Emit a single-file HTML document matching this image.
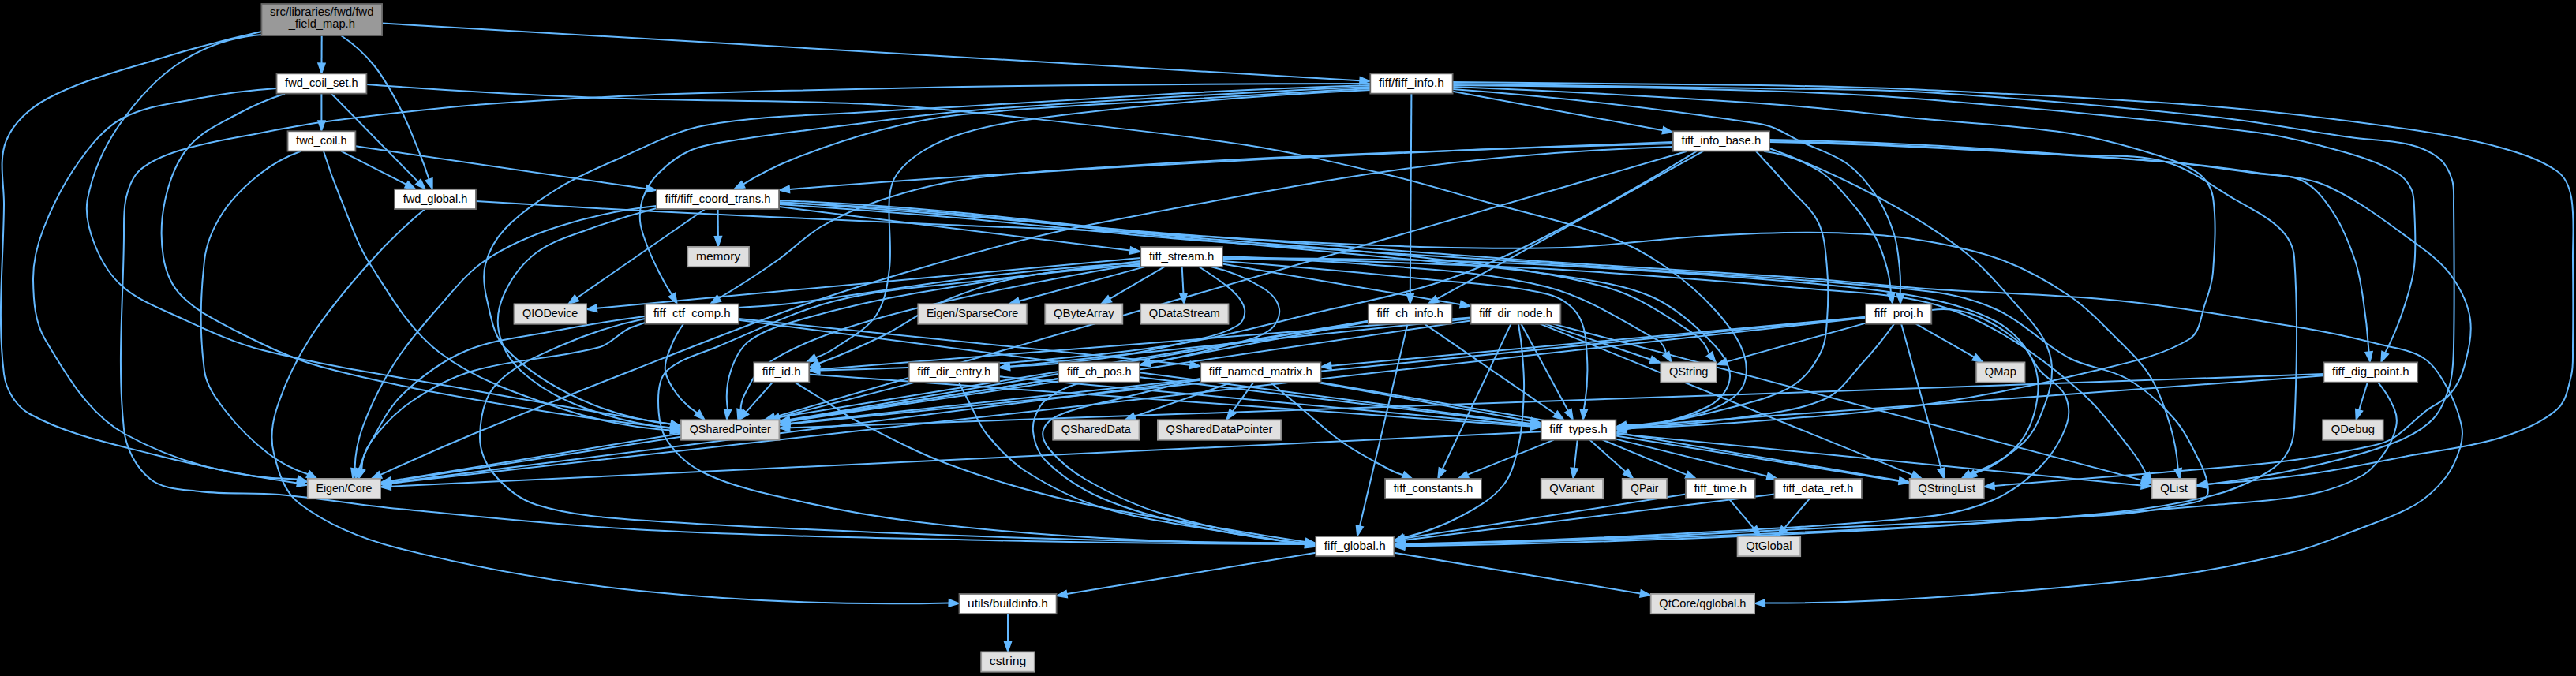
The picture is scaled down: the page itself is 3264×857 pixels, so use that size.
<!DOCTYPE html>
<html><head><meta charset="utf-8"><title>fwd_field_map.h include graph</title>
<style>
html,body{margin:0;padding:0;background:#000;}
svg{display:block;}
text{font-family:"Liberation Sans",sans-serif;font-size:14px;fill:#000;text-anchor:middle;}
.e path{fill:none;stroke:#63b8ff;stroke-width:2;}
.e polygon{fill:#63b8ff;stroke:#63b8ff;stroke-width:1.33;}
</style></head><body>
<svg width="3264" height="857" viewBox="0 0 3264 857">
<rect x="0" y="0" width="3264" height="857" fill="#000"/>
<g class="e">
<path d="M407.7,45.0L407.5,80.1"/>
<path d="M432.0,45.0C447.8,55.4 462.1,68.4 474.0,83.0C487.3,99.4 497.3,118.3 507.0,137.0C516.7,155.7 524.1,175.5 532.0,195.0C536.3,205.6 540.1,216.4 543.5,227.3"/>
<path d="M484.1,29.5L1723.0,102.2"/>
<path d="M331.4,40.0C287.1,49.8 243.3,61.5 200.0,75.0C152.7,89.8 103.7,101.6 60.0,125.0C38.2,136.7 17.3,155.1 8.0,178.0C-2.3,203.3 5.3,232.6 5.0,260.0C4.3,331.3 -3.8,403.2 5.0,474.0C7.5,494.1 20.2,515.3 38.0,525.0C84.8,550.6 138.4,561.7 190.0,575.0C251.5,590.9 313.9,603.4 376.8,612.4"/>
<path d="M331.4,44.0C295.9,46.8 260.0,58.8 230.0,78.0C197.8,98.6 171.6,128.5 150.0,160.0C131.2,187.5 117.5,219.3 111.0,252.0C107.2,271.2 112.8,291.8 120.0,310.0C127.8,329.7 139.1,349.0 155.0,363.0C174.1,379.9 198.8,389.4 222.0,400.0C258.2,416.5 294.4,434.3 333.0,444.0C420.9,466.1 510.8,478.8 600.0,495.0C683.2,510.1 766.5,524.3 849.9,537.8"/>
<path d="M407.4,118.7L407.4,153.0"/>
<path d="M419.9,118.7L529.7,230.4"/>
<path d="M464.4,107.0C562.8,114.5 661.4,120.1 760.0,124.0C873.3,128.5 986.8,126.8 1100.0,132.0C1161.8,134.8 1223.5,141.3 1285.0,148.0C1383.5,158.7 1482.1,168.8 1580.0,184.0C1640.6,193.4 1700.3,207.9 1760.0,222.0C1799.0,231.2 1837.4,243.2 1876.0,254.0C1930.0,269.2 1985.2,281.0 2038.0,300.0C2063.5,309.2 2087.7,322.5 2110.0,338.0C2133.7,354.4 2155.8,373.5 2175.0,395.0C2189.5,411.2 2203.8,429.2 2210.0,450.0C2214.3,464.5 2214.4,483.2 2205.0,495.0C2192.0,511.3 2170.0,518.9 2150.0,525.0C2121.2,533.8 2090.8,538.5 2060.6,538.9"/>
<path d="M350.5,112.0C316.8,114.2 283.2,118.6 250.0,125.0C217.9,131.2 183.9,134.6 155.0,150.0C132.1,162.2 115.1,183.9 100.0,205.0C81.4,231.1 66.6,260.1 55.0,290.0C47.0,310.6 41.7,332.9 42.0,355.0C42.4,380.5 44.0,408.1 57.0,430.0C83.7,474.9 112.3,524.6 158.0,550.0C224.0,586.6 301.5,607.0 376.9,607.6"/>
<path d="M361.0,118.7C339.9,125.5 319.4,134.4 300.0,145.0C278.9,156.6 255.6,166.7 240.0,185.0C224.5,203.1 215.4,226.8 210.0,250.0C204.2,274.7 203.0,301.0 207.0,326.0C209.9,343.8 217.3,362.2 230.0,375.0C249.5,394.7 275.3,407.4 300.0,420.0C334.5,437.5 369.7,454.9 407.0,465.0C486.8,486.7 568.5,500.8 650.0,515.0C716.2,526.5 782.9,535.6 849.8,542.2"/>
<path d="M432.2,191.7L514.9,233.8"/>
<path d="M450.4,185.3L818.7,239.2"/>
<path d="M381.0,191.7C362.7,198.3 345.2,207.9 330.0,220.0C311.9,234.3 294.5,250.6 282.0,270.0C270.4,288.0 261.4,308.7 259.0,330.0C253.7,376.4 252.7,423.8 259.0,470.0C261.5,488.6 273.5,505.1 285.0,520.0C300.8,540.5 319.5,559.2 340.0,575.0C354.9,586.5 372.2,595.5 390.2,601.2"/>
<path d="M410.0,191.7C416.1,211.4 423.1,230.9 431.0,250.0C442.8,278.7 452.3,308.9 469.0,335.0C494.6,375.0 519.1,418.4 557.0,447.0C602.1,481.1 657.4,500.0 711.0,518.0C755.8,533.0 802.8,542.3 850.0,545.4"/>
<path d="M603.0,255.0C678.6,259.9 754.3,264.2 830.0,268.0C953.3,274.2 1076.7,279.5 1200.0,285.0C1293.3,289.2 1386.8,291.3 1480.0,297.0C1646.8,307.3 1813.3,321.5 1980.0,333.0C2080.0,339.9 2180.1,344.8 2280.0,352.0C2333.4,355.8 2386.6,362.2 2440.0,366.0C2520.9,371.8 2602.3,372.5 2683.0,381.0C2764.1,389.5 2844.6,403.5 2925.0,417.0C2956.0,422.2 2986.6,429.3 3017.0,437.0C3035.3,441.6 3055.2,443.7 3071.0,454.0C3084.5,462.8 3093.1,477.9 3101.0,492.0C3109.3,506.9 3115.5,523.3 3119.0,540.0C3120.9,549.2 3119.8,559.1 3117.0,568.0C3113.0,581.1 3107.5,594.2 3099.0,605.0C3088.2,618.7 3075.1,631.2 3060.0,640.0C3034.9,654.5 3007.0,663.5 2980.0,674.0C2955.3,683.6 2930.7,693.8 2905.0,700.0C2851.5,712.9 2797.6,724.2 2743.0,731.0C2642.4,743.6 2541.2,751.3 2440.0,758.0C2372.2,762.5 2304.3,764.7 2236.4,764.6"/>
<path d="M538.0,265.2C513.0,286.0 489.5,308.7 468.0,333.0C440.8,363.7 413.9,395.3 392.0,430.0C374.3,458.0 359.8,488.4 350.0,520.0C344.6,537.5 342.6,557.2 347.0,575.0C352.6,597.9 360.2,623.8 379.0,638.0C415.7,665.9 460.3,683.7 505.0,695.0C608.3,721.2 713.9,739.4 820.0,750.0C946.9,762.6 1074.8,767.5 1202.2,764.5"/>
<path d="M1277.0,778.1L1277.0,813.1"/>
<path d="M987.1,259.0C1058.1,263.5 1129.1,268.9 1200.0,275.0C1306.7,284.2 1413.2,296.8 1520.0,305.0C1673.2,316.8 1826.7,324.3 1980.0,335.0C2133.4,345.7 2287.1,352.9 2440.0,369.0C2471.2,372.3 2502.6,379.7 2531.0,393.0C2564.1,408.5 2589.7,436.9 2622.0,454.0C2644.8,466.1 2672.6,467.1 2695.0,480.0C2717.7,493.2 2737.8,511.2 2755.0,531.0C2769.2,547.4 2778.1,567.7 2788.0,587.0C2792.2,595.2 2795.3,604.0 2797.0,613.0C2798.0,618.2 2799.1,624.6 2796.0,629.0C2792.6,633.9 2785.8,635.8 2780.0,637.0C2747.9,643.5 2715.6,649.5 2683.0,652.0C2602.2,658.2 2521.0,659.1 2440.0,663.0C2326.7,668.4 2213.4,675.1 2100.0,680.0C1993.3,684.6 1886.5,688.5 1779.7,691.5"/>
<path d="M987.1,257.0C1058.2,259.4 1129.2,263.8 1200.0,270.0C1300.2,278.8 1399.9,292.0 1500.0,302.0C1599.9,312.0 1700.1,320.0 1800.0,330.0C1860.1,336.0 1920.3,340.7 1980.0,350.0C2017.2,355.8 2055.3,360.5 2090.0,375.0C2116.5,386.0 2139.5,404.9 2160.0,425.0C2174.1,438.9 2190.9,455.2 2192.0,475.0C2192.9,491.1 2179.4,507.8 2165.0,515.0C2132.9,531.0 2096.3,539.8 2060.4,540.4"/>
<path d="M987.1,262.1L1432.0,317.4"/>
<path d="M909.6,265.1L909.9,299.6"/>
<path d="M831.9,261.0C789.9,265.5 748.2,274.2 708.0,287.0C675.5,297.4 643.4,311.0 615.0,330.0C592.3,345.2 575.1,367.5 557.0,388.0C536.7,410.9 516.5,434.2 500.0,460.0C484.0,485.1 470.5,512.1 460.0,540.0C453.5,557.2 449.9,575.8 449.5,594.2"/>
<path d="M893.0,265.2L730.9,377.7"/>
<path d="M831.9,264.0C802.5,271.5 773.5,280.5 745.0,291.0C722.7,299.2 699.0,305.7 680.0,320.0C662.9,332.8 649.2,350.8 640.0,370.0C632.7,385.2 628.7,403.4 632.0,420.0C635.7,438.7 646.0,457.0 660.0,470.0C681.4,489.8 707.8,504.6 735.0,515.0C771.9,529.1 810.8,538.6 850.1,542.9"/>
<path d="M987.1,254.0C1058.2,257.0 1129.2,261.6 1200.0,268.0C1300.2,277.0 1399.9,290.3 1500.0,300.0C1602.6,310.0 1705.7,314.6 1808.0,327.0C1885.1,336.3 1963.3,343.8 2038.0,365.0C2077.3,376.2 2111.8,400.6 2146.0,423.0C2155.1,428.9 2162.4,438.5 2165.9,448.8"/>
<path d="M987.1,256.0C1058.1,260.9 1129.1,266.3 1200.0,272.0C1306.7,280.6 1413.2,291.6 1520.0,299.0C1604.6,304.9 1689.3,309.2 1774.0,312.0C1842.6,314.2 1911.4,316.3 1980.0,314.0C2041.8,311.9 2103.2,302.5 2165.0,299.0C2214.3,296.2 2263.7,294.2 2313.0,295.0C2350.1,295.6 2387.3,297.4 2424.0,303.0C2461.6,308.8 2499.3,316.0 2535.0,329.0C2565.8,340.2 2594.9,356.5 2622.0,375.0C2644.6,390.4 2663.6,410.6 2683.0,430.0C2698.0,445.0 2713.9,459.8 2725.0,478.0C2736.6,497.0 2743.6,518.6 2750.0,540.0C2755.2,557.6 2758.5,575.9 2759.7,594.2"/>
<path d="M1766.4,700.7L2078.6,752.4"/>
<path d="M1667.2,700.7L1351.7,753.1"/>
<path d="M1968.8,557.6L1859.5,601.9"/>
<path d="M2030.6,557.6L2137.0,601.8"/>
<path d="M2047.5,556.6L2239.2,603.7"/>
<path d="M1952.7,547.3L495.3,616.7"/>
<path d="M2047.5,549.7L2713.3,615.4"/>
<path d="M2047.5,552.6L2406.5,609.9"/>
<path d="M2014.3,557.6L2059.7,598.0"/>
<path d="M1998.7,557.6L1994.7,593.6"/>
<path d="M2135.9,626.4L1779.5,682.6"/>
<path d="M2190.5,632.1L2222.1,669.7"/>
<path d="M2248.4,626.4L1779.6,684.7"/>
<path d="M2292.9,632.1L2260.8,669.7"/>
<path d="M1445.2,335.0C1380.0,340.6 1314.9,347.2 1250.0,355.0C1186.5,362.6 1122.0,365.6 1060.0,381.0C1007.3,394.1 958.2,419.2 908.0,440.0C886.5,448.9 862.1,454.3 845.0,470.0C835.3,478.9 834.0,494.8 834.0,508.0C834.0,525.1 835.6,543.7 845.0,558.0C857.1,576.4 875.1,591.8 895.0,601.0C931.6,618.0 971.7,626.1 1011.0,635.0C1061.8,646.5 1113.3,655.7 1165.0,662.0C1241.4,671.3 1318.2,677.7 1395.0,682.0C1481.2,686.9 1567.6,689.4 1653.9,689.6"/>
<path d="M1548.9,331.0C1635.4,337.5 1721.7,345.2 1808.0,354.0C1859.1,359.2 1911.0,361.0 1961.0,373.0C1976.4,376.7 1991.7,386.5 2000.0,400.0C2009.6,415.6 2009.9,435.7 2011.0,454.0C2012.2,475.7 2010.8,497.7 2006.8,519.0"/>
<path d="M1445.2,337.0C1396.6,337.2 1347.9,341.6 1300.0,350.0C1265.7,356.0 1232.1,366.6 1200.0,380.0C1171.8,391.8 1147.4,411.4 1120.0,425.0C1093.2,438.3 1065.6,450.3 1037.5,460.7"/>
<path d="M1548.9,334.4L1850.4,386.0"/>
<path d="M1515.0,338.2C1516.0,337.4 1517.9,337.3 1519.0,338.0C1533.8,347.7 1549.1,357.0 1562.0,369.0C1568.7,375.2 1575.5,383.0 1577.0,392.0C1578.2,399.1 1575.1,408.2 1569.0,412.0C1552.8,422.2 1533.5,426.4 1515.0,431.0C1477.1,440.4 1438.7,448.4 1400.0,454.0C1360.0,459.7 1319.6,463.4 1279.2,464.8"/>
<path d="M1535.0,338.2C1557.9,343.4 1580.1,352.6 1600.0,365.0C1609.7,371.0 1619.3,380.7 1621.0,392.0C1622.5,401.9 1616.2,413.3 1608.0,419.0C1592.3,429.8 1572.4,433.0 1554.0,438.0C1522.0,446.7 1489.7,454.1 1457.1,460.0"/>
<path d="M1445.2,333.0C1380.0,336.8 1314.9,342.4 1250.0,350.0C1166.4,359.8 1083.5,374.8 1000.0,385.0C960.2,389.8 919.7,389.0 880.0,395.0C852.8,399.1 825.7,405.3 800.0,415.0C785.3,420.5 775.2,435.8 760.0,440.0C707.7,454.4 652.1,454.8 600.0,470.0C571.4,478.3 544.5,493.0 520.0,510.0C500.6,523.4 483.9,541.0 470.0,560.0C462.8,569.9 458.5,582.5 458.3,594.7"/>
<path d="M1450.8,338.1L1291.1,381.8"/>
<path d="M1475.5,338.1L1406.4,378.6"/>
<path d="M1497.7,338.1L1499.5,372.1"/>
<path d="M1445.2,327.0L756.2,390.8"/>
<path d="M1548.9,325.0C1632.6,327.7 1716.3,330.7 1800.0,334.0C1860.0,336.4 1920.1,338.1 1980.0,342.0C2080.1,348.5 2180.1,356.1 2280.0,365.0C2333.5,369.8 2387.7,370.9 2440.0,383.0C2475.2,391.1 2508.8,406.7 2540.0,425.0C2576.0,446.0 2609.1,472.0 2640.0,500.0C2662.8,520.6 2681.0,545.9 2700.0,570.0C2707.5,579.5 2714.0,589.9 2719.4,600.8"/>
<path d="M1445.2,331.0C1351.1,341.8 1257.3,355.1 1164.0,371.0C1116.2,379.1 1068.7,389.8 1022.0,403.0C997.5,409.9 971.9,416.4 951.0,431.0C938.3,439.8 930.8,455.3 926.0,470.0C920.9,485.6 919.5,502.8 922.1,519.0"/>
<path d="M1445.2,334.0C1362.7,347.7 1280.6,363.7 1199.0,382.0C1151.1,392.7 1103.3,404.7 1057.0,421.0C1026.3,431.8 995.7,444.5 969.0,463.0C957.0,471.3 950.9,486.1 944.0,499.0C940.6,505.2 938.7,512.4 938.5,519.5"/>
<path d="M1548.9,329.0C1609.6,327.9 1670.5,329.9 1731.0,335.0C1808.0,341.5 1886.2,344.5 1961.0,364.0C2010.8,377.0 2055.1,405.8 2100.0,431.0C2105.9,434.3 2110.4,441.3 2110.9,448.1"/>
<path d="M1548.9,327.0C1632.6,327.1 1716.3,328.1 1800.0,330.0C1860.0,331.4 1920.1,333.5 1980.0,337.0C2080.1,342.8 2180.2,349.1 2280.0,358.0C2333.5,362.8 2387.3,367.5 2440.0,378.0C2471.0,384.2 2502.2,392.9 2530.0,408.0C2547.4,417.5 2562.3,432.8 2572.0,450.0C2580.4,464.8 2583.8,483.1 2582.0,500.0C2579.7,521.2 2573.2,543.3 2560.0,560.0C2545.6,578.2 2525.0,592.5 2502.9,599.7"/>
<path d="M1007.0,484.7C1018.0,491.4 1029.0,498.2 1040.0,505.0C1056.0,515.0 1071.2,526.4 1088.0,535.0C1125.6,554.4 1163.3,574.2 1203.0,589.0C1253.2,607.7 1304.8,622.8 1357.0,635.0C1420.3,649.8 1484.9,658.8 1549.0,670.0C1583.9,676.1 1619.0,681.7 1654.1,686.9"/>
<path d="M1025.3,474.5L1939.4,540.6"/>
<path d="M979.0,484.6L945.3,522.4"/>
<path d="M1924.0,410.7C1926.2,423.7 1927.9,436.8 1929.0,450.0C1930.2,464.3 1931.5,478.7 1931.0,493.0C1930.2,515.4 1929.7,538.1 1925.0,560.0C1920.9,579.1 1917.1,599.7 1905.0,615.0C1891.0,632.8 1870.1,644.4 1850.0,655.0C1827.6,666.8 1803.5,675.7 1778.9,681.4"/>
<path d="M1863.5,403.9L1279.2,464.7"/>
<path d="M1927.3,410.6L1986.9,520.7"/>
<path d="M1863.5,402.5L1038.6,468.2"/>
<path d="M1914.5,410.6L1827.6,594.8"/>
<path d="M1968.1,410.6L2713.6,608.6"/>
<path d="M1951.6,410.6L2423.1,601.9"/>
<path d="M1863.5,406.4L1000.6,533.9"/>
<path d="M1957.9,410.6L2091.7,455.8"/>
<path d="M1215.0,484.7C1219.2,493.2 1223.5,501.6 1228.0,510.0C1235.2,523.4 1240.4,538.2 1250.0,550.0C1264.3,567.5 1279.9,584.8 1299.0,597.0C1328.9,616.2 1361.1,632.6 1395.0,643.0C1445.0,658.4 1497.4,664.9 1549.0,674.0C1583.8,680.1 1618.9,685.0 1654.0,688.7"/>
<path d="M1266.0,477.3L1939.5,539.4"/>
<path d="M1159.7,484.6L987.2,529.0"/>
<path d="M1736.3,106.0C1657.5,106.1 1578.8,106.4 1500.0,107.0C1406.7,107.7 1313.3,108.3 1220.0,110.0C1098.7,112.3 977.3,114.9 856.0,119.0C790.6,121.2 725.3,125.0 660.0,129.0C626.6,131.0 593.3,133.6 560.0,137.0C508.9,142.2 457.9,148.1 407.0,155.0C382.2,158.4 357.6,163.1 333.0,168.0C298.6,174.8 263.6,179.8 230.0,190.0C211.6,195.6 192.6,202.5 178.0,215.0C168.0,223.5 163.1,237.3 160.0,250.0C156.0,266.2 157.2,283.3 157.0,300.0C156.2,381.3 148.3,463.1 157.0,544.0C159.5,567.6 171.7,591.9 190.0,607.0C206.7,620.8 231.5,620.4 253.0,623.0C286.4,627.1 320.4,624.1 354.0,627.0C404.5,631.4 454.5,640.1 505.0,645.0C609.9,655.1 714.8,666.6 820.0,672.0C979.9,680.2 1140.0,682.6 1300.0,686.0C1417.9,688.5 1535.9,689.8 1653.9,689.9"/>
<path d="M1840.6,115.7L2106.8,165.2"/>
<path d="M1840.6,110.0C1970.5,115.1 2100.3,122.1 2230.0,131.0C2300.2,135.8 2370.0,144.2 2440.0,151.0C2500.7,156.9 2561.8,159.7 2622.0,169.0C2659.0,174.7 2695.3,184.9 2731.0,196.0C2750.1,201.9 2769.9,208.1 2786.0,220.0C2795.4,226.9 2802.3,238.5 2804.0,250.0C2808.5,281.3 2806.3,313.4 2804.0,345.0C2803.0,358.7 2798.6,372.0 2794.0,385.0C2788.5,400.5 2788.0,421.5 2774.0,430.0C2738.0,451.9 2694.9,459.7 2654.0,470.0C2587.4,486.8 2519.9,500.6 2452.0,511.0C2385.1,521.3 2317.5,526.4 2250.0,532.0C2187.0,537.2 2123.9,540.9 2060.8,543.2"/>
<path d="M1736.3,114.0C1657.4,117.8 1578.6,123.1 1500.0,130.0C1433.2,135.8 1366.4,142.7 1300.0,152.0C1273.0,155.8 1246.1,161.2 1220.0,169.0C1202.6,174.2 1185.5,181.5 1170.0,191.0C1157.5,198.7 1145.6,208.2 1137.0,220.0C1130.8,228.5 1127.9,239.5 1127.0,250.0C1124.5,279.9 1130.4,310.2 1127.0,340.0C1124.7,360.7 1121.6,382.7 1110.0,400.0C1098.1,417.7 1077.5,427.8 1060.0,440.0C1052.0,445.6 1043.1,450.1 1033.9,453.3"/>
<path d="M1788.4,118.7L1786.8,372.1"/>
<path d="M1840.6,108.0C1970.4,108.8 2100.2,111.1 2230.0,115.0C2300.1,117.1 2370.2,120.1 2440.0,126.0C2580.2,137.8 2720.4,150.1 2860.0,168.0C2900.0,173.1 2939.2,183.8 2978.0,195.0C2998.4,200.9 3018.6,208.5 3037.0,219.0C3044.8,223.4 3050.9,231.0 3055.0,239.0C3058.5,245.9 3058.7,254.2 3059.0,262.0C3060.0,287.3 3061.8,312.8 3059.0,338.0C3056.8,357.8 3050.4,377.1 3044.0,396.0C3038.1,413.5 3030.8,430.7 3022.2,447.1"/>
<path d="M1736.3,110.0C1657.5,113.3 1578.7,117.3 1500.0,122.0C1406.6,127.6 1313.2,133.0 1220.0,141.0C1172.5,145.1 1125.3,152.0 1078.0,158.0C1028.6,164.3 979.1,170.1 930.0,178.0C911.1,181.1 891.6,183.3 874.0,191.0C858.9,197.6 845.6,208.4 834.0,220.0C825.6,228.4 819.2,238.9 815.0,250.0C811.4,259.4 810.3,269.9 811.0,280.0C811.7,290.0 815.5,299.6 819.0,309.0C823.5,321.3 829.1,333.3 835.0,345.0C839.9,354.9 845.4,364.5 851.4,373.7"/>
<path d="M1736.3,112.0C1657.5,116.3 1578.7,121.0 1500.0,126.0C1406.6,132.0 1313.1,135.6 1220.0,145.0C1184.6,148.6 1149.4,155.9 1115.0,165.0C1077.3,175.0 1040.2,187.6 1004.0,202.0C982.4,210.6 961.5,221.3 941.8,233.7"/>
<path d="M1840.6,113.0C1970.9,122.6 2100.9,137.2 2230.0,157.0C2249.8,160.0 2266.8,172.6 2285.0,181.0C2303.8,189.7 2324.3,195.8 2341.0,208.0C2355.9,218.9 2367.8,233.7 2378.0,249.0C2387.7,263.7 2394.7,280.2 2400.0,297.0C2404.4,310.8 2405.5,325.6 2407.0,340.0C2408.1,350.6 2408.3,361.4 2407.7,372.0"/>
<path d="M1840.6,104.0C1970.4,104.5 2100.2,105.8 2230.0,108.0C2300.0,109.2 2370.0,110.7 2440.0,114.0C2561.4,119.7 2682.9,125.2 2804.0,135.0C2884.9,141.5 2965.6,151.5 3046.0,163.0C3087.0,168.9 3128.1,175.9 3168.0,187.0C3193.0,194.0 3218.7,202.1 3240.0,217.0C3250.3,224.2 3255.8,237.7 3258.0,250.0C3262.6,276.3 3259.7,303.3 3260.0,330.0C3260.4,366.7 3260.5,403.3 3260.0,440.0C3259.8,452.0 3260.9,464.3 3258.0,476.0C3254.2,491.1 3251.7,508.7 3240.0,519.0C3219.8,536.7 3193.6,547.1 3168.0,555.0C3128.4,567.2 3086.7,571.3 3046.0,579.0C3005.7,586.6 2965.6,595.4 2925.0,601.0C2882.2,606.9 2839.1,611.2 2795.9,613.7"/>
<path d="M1840.6,106.0C1970.4,107.6 2100.2,109.6 2230.0,112.0C2300.0,113.3 2370.1,112.6 2440.0,117.0C2561.5,124.6 2682.9,135.2 2804.0,148.0C2862.3,154.2 2919.9,165.8 2978.0,174.0C3002.6,177.5 3027.8,177.2 3052.0,183.0C3065.9,186.3 3079.9,191.9 3091.0,201.0C3099.1,207.6 3103.9,218.0 3107.0,228.0C3110.1,238.2 3108.9,249.3 3109.0,260.0C3109.6,320.0 3110.3,380.0 3109.0,440.0C3108.6,456.1 3108.4,472.5 3104.0,488.0C3099.6,503.3 3094.0,519.5 3083.0,531.0C3069.7,544.8 3051.9,554.1 3034.0,561.0C2998.8,574.6 2961.9,583.8 2925.0,592.0C2882.4,601.5 2839.2,609.0 2795.8,614.2"/>
<path d="M1736.3,108.0C1657.5,110.5 1578.7,113.9 1500.0,118.0C1406.6,122.9 1313.3,129.4 1220.0,135.0C1185.0,137.1 1150.0,138.4 1115.0,141.0C1041.0,146.4 966.0,145.6 893.0,159.0C854.0,166.1 818.4,186.3 782.0,202.0C755.7,213.3 729.3,224.9 705.0,240.0C681.8,254.4 658.8,270.2 640.0,290.0C628.2,302.5 619.2,318.4 615.0,335.0C611.3,349.5 613.6,365.4 617.0,380.0C622.0,401.2 625.1,425.1 640.0,441.0C666.2,469.0 700.1,490.0 735.0,506.0C771.2,522.6 810.6,533.4 850.2,537.5"/>
<path d="M2242.0,177.0C2308.0,178.4 2374.0,180.7 2440.0,184.0C2500.7,187.0 2561.3,191.8 2622.0,196.0C2662.3,198.8 2704.0,194.3 2743.0,205.0C2776.2,214.1 2804.2,236.7 2834.0,254.0C2852.9,265.0 2873.4,274.6 2889.0,290.0C2898.6,299.4 2906.0,312.6 2907.0,326.0C2912.1,398.2 2910.4,470.7 2907.0,543.0C2906.4,555.6 2902.3,568.7 2895.0,579.0C2887.4,589.9 2875.7,597.7 2864.0,604.0C2845.0,614.2 2824.9,622.8 2804.0,628.0C2764.3,637.9 2723.7,644.6 2683.0,649.0C2602.2,657.7 2521.1,662.4 2440.0,667.0C2326.7,673.4 2213.4,677.9 2100.0,682.0C1993.3,685.8 1886.5,688.7 1779.7,690.6"/>
<path d="M2225.0,191.7C2239.3,206.9 2253.3,222.3 2267.0,238.0C2279.6,252.4 2295.8,264.7 2304.0,282.0C2312.4,299.8 2313.3,320.4 2315.0,340.0C2316.9,361.9 2316.6,384.1 2315.0,406.0C2314.0,419.9 2313.3,434.6 2307.0,447.0C2298.9,462.8 2288.0,478.5 2273.0,488.0C2251.1,501.9 2225.1,508.4 2200.0,515.0C2154.1,527.2 2107.5,536.9 2060.5,544.3"/>
<path d="M2158.2,191.7L1821.0,378.9"/>
<path d="M2242.0,178.5C2308.0,180.0 2374.0,182.5 2440.0,186.0C2541.1,191.3 2642.1,196.8 2743.0,205.0C2782.2,208.2 2821.1,214.5 2860.0,220.0C2879.7,222.8 2901.4,220.7 2919.0,230.0C2935.9,239.0 2947.6,256.0 2958.0,272.0C2969.5,289.8 2977.1,310.0 2984.0,330.0C2989.2,345.2 2991.6,361.2 2994.0,377.0C2997.5,399.9 3000.0,423.0 3001.6,446.1"/>
<path d="M2119.9,182.0C1979.9,185.5 1839.9,190.2 1700.0,196.0C1599.9,200.2 1499.9,205.3 1400.0,212.0C1339.9,216.0 1279.6,219.2 1220.0,228.0C1184.3,233.3 1149.2,242.7 1115.0,254.0C1089.3,262.5 1064.3,273.4 1041.0,287.0C1020.7,298.9 1004.3,316.5 985.0,330.0C961.0,346.9 936.3,362.9 911.1,378.0"/>
<path d="M2119.9,180.0C1946.6,186.2 1773.2,193.5 1600.0,202.0C1473.3,208.2 1346.6,216.0 1220.0,224.0C1146.7,228.6 1073.5,234.0 1000.4,240.0"/>
<path d="M2235.0,191.7C2259.2,194.7 2283.3,203.2 2304.0,216.0C2323.2,227.9 2337.4,246.7 2352.0,264.0C2362.2,276.2 2370.7,289.9 2378.0,304.0C2383.8,315.4 2387.7,327.7 2391.0,340.0C2393.8,350.5 2395.4,361.3 2396.0,372.2"/>
<path d="M2242.0,180.0C2308.0,181.4 2374.0,183.7 2440.0,187.0C2541.1,192.0 2642.1,197.3 2743.0,205.0C2782.2,208.0 2821.2,213.2 2860.0,219.0C2889.9,223.5 2921.5,223.5 2949.0,236.0C2991.8,255.4 3029.0,285.4 3067.0,313.0C3081.9,323.8 3096.6,335.8 3107.0,351.0C3118.1,367.1 3127.5,385.6 3130.0,405.0C3132.7,425.3 3127.4,446.2 3122.0,466.0C3118.6,478.4 3112.4,490.3 3104.0,500.0C3096.3,508.9 3084.3,512.8 3075.0,520.0C3060.6,531.2 3048.3,545.0 3033.0,555.0C3025.0,560.2 3015.4,563.0 3006.0,565.0C2970.9,572.6 2935.6,579.4 2900.0,584.0C2846.9,590.8 2793.4,594.4 2740.0,599.0C2669.0,605.1 2598.0,610.7 2527.0,615.9"/>
<path d="M2242.0,188.0C2288.6,205.3 2334.1,225.7 2378.0,249.0C2416.6,269.5 2454.6,291.9 2489.0,319.0C2516.0,340.3 2537.8,367.5 2561.0,393.0C2571.2,404.2 2581.8,415.6 2589.0,429.0C2595.1,440.3 2599.5,453.1 2600.0,466.0C2600.6,480.9 2597.2,496.0 2592.0,510.0C2585.4,527.8 2578.7,547.0 2565.0,560.0C2545.7,578.3 2521.7,592.4 2496.4,600.5"/>
<path d="M2137.5,191.7L981.4,528.6"/>
<path d="M2150.0,191.7C2087.6,230.5 2023.5,266.7 1958.0,300.0C1914.3,322.2 1869.5,342.6 1823.0,358.0C1772.8,374.7 1720.4,383.7 1669.0,396.0C1612.8,409.4 1557.0,425.4 1500.0,435.0C1433.8,446.1 1366.8,452.1 1300.0,458.0C1250.1,462.4 1200.0,463.8 1150.0,466.0C1112.9,467.6 1075.7,468.8 1038.6,469.6"/>
<path d="M2119.9,186.0C2046.5,188.4 1973.1,193.0 1900.0,200.0C1833.1,206.4 1766.4,215.2 1700.0,226.0C1600.0,242.2 1500.5,261.9 1401.0,281.0C1368.8,287.2 1336.7,293.9 1305.0,302.0C1250.4,315.9 1196.0,330.9 1142.0,347.0C1094.3,361.2 1046.8,376.2 1000.0,393.0C932.8,417.2 866.5,443.9 800.0,470.0C733.2,496.2 666.3,522.5 600.0,550.0C560.4,566.5 521.1,583.8 482.2,601.9"/>
<path d="M1783.6,410.6L1722.9,666.9"/>
<path d="M1805.0,410.6L1970.8,524.8"/>
<path d="M1733.8,407.9L1457.2,459.9"/>
<path d="M1733.8,406.7L495.1,609.8"/>
<path d="M1733.8,407.0L1000.5,532.1"/>
<path d="M1372.0,484.7C1360.9,487.2 1350.0,491.4 1340.0,497.0C1331.7,501.6 1323.0,506.9 1318.0,515.0C1312.2,524.4 1307.7,536.0 1309.0,547.0C1310.6,560.8 1316.1,575.3 1326.0,585.0C1345.8,604.3 1369.7,619.9 1395.0,631.0C1432.0,647.2 1471.6,657.1 1511.0,666.0C1558.1,676.6 1606.0,684.4 1654.1,689.4"/>
<path d="M1444.1,478.2L1939.5,537.7"/>
<path d="M1341.2,479.9L495.1,610.4"/>
<path d="M1341.2,480.0L1000.5,533.2"/>
<path d="M3013.0,484.7C3021.7,494.9 3028.9,506.6 3034.0,519.0C3036.8,525.8 3037.6,533.8 3036.0,541.0C3033.5,552.4 3028.6,563.4 3022.0,573.0C3014.1,584.4 3005.1,596.2 2993.0,603.0C2972.3,614.6 2949.3,622.4 2926.0,627.0C2886.9,634.8 2846.8,636.6 2807.0,640.0C2684.7,650.3 2562.5,660.4 2440.0,668.0C2326.8,675.0 2213.4,679.8 2100.0,684.0C1993.3,688.0 1886.5,690.9 1779.7,692.6"/>
<path d="M2944.4,476.3L2060.8,540.6"/>
<path d="M2944.4,474.1L1000.7,542.3"/>
<path d="M2999.9,484.6L2989.2,519.6"/>
<path d="M817.3,404.0C780.9,411.4 745.0,422.9 711.0,438.0C681.5,451.1 649.5,463.9 628.0,488.0C612.9,504.9 608.6,530.3 608.0,553.0C607.6,569.7 614.4,587.2 625.0,600.0C639.5,617.5 658.3,633.3 680.0,640.0C725.1,653.9 773.0,656.8 820.0,660.0C979.8,670.8 1139.9,676.6 1300.0,682.0C1417.9,686.0 1535.9,688.1 1653.9,688.3"/>
<path d="M936.2,405.8L1939.5,537.1"/>
<path d="M936.2,404.1L1508.0,462.8"/>
<path d="M817.3,401.0C778.0,406.1 738.9,412.5 700.0,420.0C663.1,427.1 624.7,430.4 590.0,445.0C560.2,457.6 533.4,477.6 510.0,500.0C492.6,516.6 482.0,539.2 470.0,560.0C463.7,571.0 458.6,582.8 455.2,595.1"/>
<path d="M866.0,410.7C859.4,419.7 854.0,429.6 850.0,440.0C846.3,449.6 841.6,459.8 843.0,470.0C844.5,481.1 851.3,491.1 858.0,500.0C864.9,509.1 873.6,517.1 883.2,523.3"/>
<path d="M1521.2,480.0C1487.4,488.1 1453.7,496.4 1420.0,505.0C1394.9,511.4 1369.0,515.2 1345.0,525.0C1335.6,528.8 1325.2,535.4 1322.0,545.0C1319.2,553.3 1324.3,563.4 1330.0,570.0C1342.9,585.1 1358.7,598.1 1376.0,608.0C1406.5,625.4 1438.4,641.1 1472.0,651.0C1531.6,668.6 1592.7,681.7 1654.2,690.2"/>
<path d="M1610.0,484.7C1620.0,493.2 1630.0,501.6 1640.0,510.0C1660.0,526.7 1678.8,545.0 1700.0,560.0C1718.9,573.4 1739.7,583.9 1760.0,595.0C1765.6,598.0 1771.6,600.5 1777.7,602.3"/>
<path d="M1667.1,484.6L1939.6,534.0"/>
<path d="M1521.2,481.7L495.2,612.0"/>
<path d="M1671.9,484.6L2406.5,609.3"/>
<path d="M1561.2,484.6L1437.5,528.0"/>
<path d="M1588.3,484.6L1561.8,521.5"/>
<path d="M1521.2,480.3L1000.6,536.8"/>
<path d="M2447.3,393.0C2465.1,390.5 2484.2,392.6 2501.0,399.0C2523.0,407.3 2543.1,420.8 2561.0,436.0C2571.6,445.0 2576.0,459.5 2585.0,470.0C2594.4,480.9 2609.5,487.2 2616.0,500.0C2621.6,511.0 2623.0,525.3 2619.0,537.0C2612.1,557.4 2600.0,576.5 2585.0,592.0C2568.0,609.5 2547.4,624.3 2525.0,634.0C2498.2,645.6 2469.0,652.0 2440.0,655.0C2327.0,666.7 2213.4,672.1 2100.0,678.0C1993.3,683.6 1886.5,687.4 1779.7,689.5"/>
<path d="M2364.0,401.8L1686.7,463.8"/>
<path d="M2400.0,410.7C2387.7,428.0 2374.4,444.5 2360.0,460.0C2345.0,476.3 2332.3,497.1 2312.0,506.0C2277.0,521.3 2237.8,524.6 2200.0,530.0C2153.9,536.6 2107.3,540.6 2060.8,541.9"/>
<path d="M2364.0,402.7L495.2,612.8"/>
<path d="M2364.0,402.1L1000.6,537.5"/>
<path d="M2364.0,409.6L2187.9,458.6"/>
<path d="M2409.1,410.6L2459.6,594.0"/>
<path d="M2427.7,410.6L2501.2,452.7"/>
<polygon points="407.5,93.3 402.8,80.0 412.2,80.1"/>
<polygon points="548.0,239.8 539.1,228.9 548.0,225.7"/>
<polygon points="1736.3,102.9 1722.7,106.9 1723.3,97.5"/>
<polygon points="389.8,615.0 375.8,617.0 377.7,607.8"/>
<polygon points="863.0,540.0 849.1,542.4 850.7,533.1"/>
<polygon points="407.4,166.3 402.8,153.0 412.1,153.0"/>
<polygon points="539.1,239.8 526.4,233.7 533.1,227.1"/>
<polygon points="2047.5,541.0 2059.9,534.3 2061.4,543.6"/>
<polygon points="389.8,611.0 375.7,612.2 378.1,603.1"/>
<polygon points="863.0,544.0 849.2,546.9 850.5,537.5"/>
<polygon points="526.7,239.8 512.7,238.0 517.0,229.6"/>
<polygon points="831.9,241.1 818.1,243.9 819.4,234.6"/>
<polygon points="402.0,607.3 388.0,605.3 392.4,597.0"/>
<polygon points="863.0,548.0 849.0,550.0 850.9,540.8"/>
<polygon points="2223.1,765.0 2236.2,759.9 2236.5,769.3"/>
<polygon points="1215.5,765.0 1202.0,769.2 1202.4,759.8"/>
<polygon points="1277.0,826.4 1272.3,813.0 1281.7,813.1"/>
<polygon points="1766.4,692.0 1779.5,686.8 1779.9,696.2"/>
<polygon points="2047.5,543.5 2059.3,535.8 2061.5,544.9"/>
<polygon points="1445.2,319.1 1431.4,322.1 1432.6,312.8"/>
<polygon points="910.0,312.9 905.2,299.6 914.6,299.5"/>
<polygon points="447.0,607.3 444.9,593.3 454.1,595.1"/>
<polygon points="720.0,385.3 728.2,373.9 733.6,381.6"/>
<polygon points="863.0,546.0 849.0,547.4 851.2,538.3"/>
<polygon points="2174.0,459.3 2162.2,451.6 2169.6,445.9"/>
<polygon points="2762.0,607.3 2755.0,595.0 2764.3,593.4"/>
<polygon points="2091.7,754.6 2077.8,757.1 2079.3,747.8"/>
<polygon points="1338.6,755.3 1351.0,748.5 1352.5,757.7"/>
<polygon points="1847.2,606.9 1857.8,597.5 1861.3,606.2"/>
<polygon points="2149.3,606.9 2135.2,606.1 2138.8,597.4"/>
<polygon points="2252.1,606.9 2238.1,608.2 2240.4,599.1"/>
<polygon points="482.0,617.3 495.1,612.0 495.5,621.4"/>
<polygon points="2726.5,616.7 2712.8,620.1 2713.7,610.7"/>
<polygon points="2419.6,612.0 2405.7,614.5 2407.2,605.2"/>
<polygon points="2069.6,606.9 2056.5,601.5 2062.8,594.5"/>
<polygon points="1993.3,606.9 1990.1,593.1 1999.4,594.1"/>
<polygon points="1766.4,684.7 1778.8,678.0 1780.3,687.3"/>
<polygon points="2230.7,679.9 2218.6,672.7 2225.7,666.7"/>
<polygon points="1766.4,686.3 1779.0,680.0 1780.2,689.4"/>
<polygon points="2252.2,679.9 2257.3,666.7 2264.4,672.8"/>
<polygon points="1667.2,690.0 1653.8,694.3 1654.0,684.9"/>
<polygon points="2006.0,532.3 2002.2,518.7 2011.5,519.3"/>
<polygon points="1025.3,466.0 1035.6,456.4 1039.4,465.0"/>
<polygon points="1863.5,388.2 1849.6,390.6 1851.2,381.4"/>
<polygon points="1266.0,466.0 1278.8,460.1 1279.7,469.5"/>
<polygon points="1444.1,463.0 1456.0,455.5 1458.1,464.6"/>
<polygon points="454.0,607.3 453.8,593.2 462.7,596.2"/>
<polygon points="1278.3,385.4 1289.9,377.3 1292.4,386.4"/>
<polygon points="1394.9,385.4 1404.0,374.6 1408.7,382.7"/>
<polygon points="1500.2,385.4 1494.8,372.3 1504.2,371.8"/>
<polygon points="743.0,392.0 755.8,386.1 756.7,395.5"/>
<polygon points="2726.5,612.0 2715.4,603.3 2723.4,598.2"/>
<polygon points="921.0,532.3 917.4,518.7 926.7,519.4"/>
<polygon points="935.0,532.3 933.9,518.2 943.0,520.7"/>
<polygon points="2118.0,459.3 2106.9,450.6 2114.8,445.6"/>
<polygon points="2492.0,607.3 2500.2,595.8 2505.6,603.6"/>
<polygon points="1667.2,689.0 1653.3,691.5 1654.8,682.2"/>
<polygon points="1952.7,541.6 1939.1,545.3 1939.8,535.9"/>
<polygon points="936.5,532.4 941.8,519.3 948.8,525.5"/>
<polygon points="1766.4,686.0 1777.2,677.0 1780.5,685.8"/>
<polygon points="1266.0,466.1 1278.7,460.0 1279.7,469.4"/>
<polygon points="1993.2,532.4 1982.8,522.9 1991.0,518.4"/>
<polygon points="1025.3,469.2 1038.2,463.5 1038.9,472.8"/>
<polygon points="1821.9,606.9 1823.3,592.8 1831.8,596.8"/>
<polygon points="2726.5,612.0 2712.4,613.2 2714.9,604.1"/>
<polygon points="2435.5,606.9 2421.4,606.2 2424.9,597.5"/>
<polygon points="987.4,535.8 999.9,529.2 1001.2,538.5"/>
<polygon points="2104.3,460.1 2090.2,460.3 2093.2,451.3"/>
<polygon points="1667.2,690.5 1653.4,693.3 1654.7,684.0"/>
<polygon points="1952.7,540.6 1939.0,544.1 1939.9,534.7"/>
<polygon points="974.4,532.4 986.1,524.5 988.4,533.6"/>
<polygon points="1667.2,690.0 1653.8,694.6 1654.0,685.2"/>
<polygon points="2119.9,167.6 2106.0,169.8 2107.7,160.6"/>
<polygon points="2047.5,544.0 2060.5,538.5 2061.1,547.9"/>
<polygon points="1022.0,459.3 1031.7,449.1 1036.0,457.5"/>
<polygon points="1786.7,385.4 1782.1,372.0 1791.5,372.1"/>
<polygon points="3017.0,459.3 3017.9,445.2 3026.5,448.9"/>
<polygon points="858.0,385.3 847.3,376.1 855.5,371.4"/>
<polygon points="930.0,239.8 939.7,229.6 944.0,237.9"/>
<polygon points="2408.0,385.3 2403.0,372.1 2412.4,371.9"/>
<polygon points="2782.7,615.0 2795.5,609.0 2796.4,618.4"/>
<polygon points="2782.7,616.5 2795.0,609.6 2796.6,618.9"/>
<polygon points="863.0,541.0 848.9,542.0 851.4,533.0"/>
<polygon points="1766.4,691.0 1779.6,685.9 1779.8,695.3"/>
<polygon points="2047.5,547.0 2059.6,539.7 2061.5,548.9"/>
<polygon points="1809.4,385.4 1818.7,374.8 1823.3,383.0"/>
<polygon points="3003.0,459.3 2996.9,446.6 3006.2,445.6"/>
<polygon points="900.0,385.3 908.6,374.1 913.7,382.0"/>
<polygon points="987.1,241.0 1000.0,235.3 1000.7,244.7"/>
<polygon points="2398.0,385.3 2391.3,372.9 2400.6,371.4"/>
<polygon points="2513.7,617.0 2526.6,611.3 2527.3,620.6"/>
<polygon points="2485.0,607.3 2494.1,596.5 2498.8,604.6"/>
<polygon points="968.6,532.4 980.1,524.1 982.7,533.1"/>
<polygon points="1025.3,470.0 1038.4,464.9 1038.7,474.3"/>
<polygon points="470.0,607.3 480.3,597.6 484.1,606.2"/>
<polygon points="1719.8,679.9 1718.3,665.8 1727.4,668.0"/>
<polygon points="1981.7,532.4 1968.1,528.7 1973.4,520.9"/>
<polygon points="1444.1,462.3 1456.3,455.3 1458.0,464.5"/>
<polygon points="482.0,611.9 494.4,605.1 495.9,614.4"/>
<polygon points="987.4,534.4 999.7,527.5 1001.3,536.8"/>
<polygon points="1667.2,691.5 1653.3,694.0 1654.8,684.7"/>
<polygon points="1952.7,539.3 1938.9,542.4 1940.1,533.1"/>
<polygon points="482.0,612.4 494.4,605.7 495.9,615.0"/>
<polygon points="987.4,535.3 999.8,528.6 1001.3,537.9"/>
<polygon points="1766.4,693.0 1779.6,687.9 1779.8,697.3"/>
<polygon points="2047.5,541.6 2060.4,535.9 2061.1,545.3"/>
<polygon points="987.4,542.8 1000.5,537.7 1000.9,547.0"/>
<polygon points="2985.3,532.4 2984.7,518.3 2993.7,521.0"/>
<polygon points="1667.2,688.5 1653.8,693.0 1654.0,683.6"/>
<polygon points="1952.7,538.8 1938.9,541.7 1940.1,532.4"/>
<polygon points="1521.2,464.2 1507.5,467.5 1508.4,458.1"/>
<polygon points="450.0,607.3 450.9,593.2 459.5,596.9"/>
<polygon points="893.0,532.3 880.0,526.7 886.4,519.8"/>
<polygon points="1667.2,693.0 1653.2,694.8 1655.2,685.6"/>
<polygon points="1790.0,607.3 1775.9,606.6 1779.5,597.9"/>
<polygon points="1952.7,536.4 1938.8,538.7 1940.5,529.4"/>
<polygon points="482.0,613.6 494.6,607.3 495.8,616.6"/>
<polygon points="2419.6,611.5 2405.7,613.9 2407.3,604.7"/>
<polygon points="1425.0,532.4 1436.0,523.5 1439.1,532.4"/>
<polygon points="1554.0,532.4 1558.0,518.8 1565.6,524.3"/>
<polygon points="987.4,538.2 1000.1,532.1 1001.1,541.5"/>
<polygon points="1766.4,690.0 1779.5,684.8 1779.9,694.2"/>
<polygon points="1673.5,465.0 1686.3,459.1 1687.2,468.5"/>
<polygon points="2047.5,543.0 2060.4,537.2 2061.2,546.6"/>
<polygon points="482.0,614.3 494.7,608.2 495.7,617.5"/>
<polygon points="987.4,538.8 1000.2,532.8 1001.1,542.2"/>
<polygon points="2175.1,462.2 2186.7,454.1 2189.2,463.1"/>
<polygon points="2463.2,606.9 2455.1,595.3 2464.2,592.8"/>
<polygon points="2512.8,459.4 2498.9,456.8 2503.6,448.7"/>
</g>
<g>
<rect x="331.4" y="5.0" width="152.7" height="40.0" fill="#999999" stroke="#666666" stroke-width="1.8"/>
<text x="407.8" y="20.1" textLength="131.4" lengthAdjust="spacingAndGlyphs">src/libraries/fwd/fwd</text>
<text x="407.8" y="34.8" textLength="84.0" lengthAdjust="spacingAndGlyphs">_field_map.h</text>
<rect x="350.5" y="93.3" width="113.9" height="25.3" fill="#ffffff" stroke="#666666" stroke-width="1.8"/>
<text x="407.4" y="110.3" textLength="92.6" lengthAdjust="spacingAndGlyphs">fwd_coil_set.h</text>
<rect x="364.5" y="166.3" width="85.9" height="25.3" fill="#ffffff" stroke="#666666" stroke-width="1.8"/>
<text x="407.4" y="183.3" textLength="64.6" lengthAdjust="spacingAndGlyphs">fwd_coil.h</text>
<rect x="500.0" y="239.8" width="103.0" height="25.3" fill="#ffffff" stroke="#666666" stroke-width="1.8"/>
<text x="551.5" y="256.8" textLength="81.7" lengthAdjust="spacingAndGlyphs">fwd_global.h</text>
<rect x="651.5" y="385.4" width="91.5" height="25.3" fill="#e0e0e0" stroke="#999999" stroke-width="1.8"/>
<text x="697.2" y="402.3" textLength="70.2" lengthAdjust="spacingAndGlyphs">QIODevice</text>
<rect x="831.9" y="239.8" width="155.2" height="25.3" fill="#ffffff" stroke="#666666" stroke-width="1.8"/>
<text x="909.5" y="256.8" textLength="133.9" lengthAdjust="spacingAndGlyphs">fiff/fiff_coord_trans.h</text>
<rect x="871.3" y="312.9" width="77.7" height="25.3" fill="#e0e0e0" stroke="#999999" stroke-width="1.8"/>
<text x="910.1" y="329.8" textLength="56.4" lengthAdjust="spacingAndGlyphs">memory</text>
<rect x="1445.2" y="312.9" width="103.7" height="25.3" fill="#ffffff" stroke="#666666" stroke-width="1.8"/>
<text x="1497.1" y="329.8" textLength="82.4" lengthAdjust="spacingAndGlyphs">fiff_stream.h</text>
<rect x="817.3" y="385.4" width="118.9" height="25.3" fill="#ffffff" stroke="#666666" stroke-width="1.8"/>
<text x="876.8" y="402.3" textLength="97.6" lengthAdjust="spacingAndGlyphs">fiff_ctf_comp.h</text>
<rect x="1163.3" y="385.4" width="137.5" height="25.3" fill="#e0e0e0" stroke="#999999" stroke-width="1.8"/>
<text x="1232.0" y="402.3" textLength="116.2" lengthAdjust="spacingAndGlyphs">Eigen/SparseCore</text>
<rect x="1324.3" y="385.4" width="98.0" height="25.3" fill="#e0e0e0" stroke="#999999" stroke-width="1.8"/>
<text x="1373.3" y="402.3" textLength="76.7" lengthAdjust="spacingAndGlyphs">QByteArray</text>
<rect x="1445.2" y="385.4" width="111.3" height="25.3" fill="#e0e0e0" stroke="#999999" stroke-width="1.8"/>
<text x="1500.8" y="402.3" textLength="90.0" lengthAdjust="spacingAndGlyphs">QDataStream</text>
<rect x="1736.3" y="93.3" width="104.3" height="25.3" fill="#ffffff" stroke="#666666" stroke-width="1.8"/>
<text x="1788.4" y="110.3" textLength="83.0" lengthAdjust="spacingAndGlyphs">fiff/fiff_info.h</text>
<rect x="2119.9" y="166.3" width="122.1" height="25.3" fill="#ffffff" stroke="#666666" stroke-width="1.8"/>
<text x="2180.9" y="183.3" textLength="100.8" lengthAdjust="spacingAndGlyphs">fiff_info_base.h</text>
<rect x="1733.8" y="385.4" width="105.6" height="25.3" fill="#ffffff" stroke="#666666" stroke-width="1.8"/>
<text x="1786.6" y="402.3" textLength="84.3" lengthAdjust="spacingAndGlyphs">fiff_ch_info.h</text>
<rect x="1863.5" y="385.4" width="113.9" height="25.3" fill="#ffffff" stroke="#666666" stroke-width="1.8"/>
<text x="1920.5" y="402.3" textLength="92.6" lengthAdjust="spacingAndGlyphs">fiff_dir_node.h</text>
<rect x="2364.0" y="385.4" width="83.3" height="25.3" fill="#ffffff" stroke="#666666" stroke-width="1.8"/>
<text x="2405.7" y="402.3" textLength="62.0" lengthAdjust="spacingAndGlyphs">fiff_proj.h</text>
<rect x="955.2" y="459.4" width="70.1" height="25.3" fill="#ffffff" stroke="#666666" stroke-width="1.8"/>
<text x="990.2" y="476.3" textLength="48.8" lengthAdjust="spacingAndGlyphs">fiff_id.h</text>
<rect x="1151.7" y="459.4" width="114.3" height="25.3" fill="#ffffff" stroke="#666666" stroke-width="1.8"/>
<text x="1208.8" y="476.3" textLength="93.0" lengthAdjust="spacingAndGlyphs">fiff_dir_entry.h</text>
<rect x="1341.2" y="459.4" width="102.9" height="25.3" fill="#ffffff" stroke="#666666" stroke-width="1.8"/>
<text x="1392.7" y="476.3" textLength="81.6" lengthAdjust="spacingAndGlyphs">fiff_ch_pos.h</text>
<rect x="1521.2" y="459.4" width="152.3" height="25.3" fill="#ffffff" stroke="#666666" stroke-width="1.8"/>
<text x="1597.3" y="476.3" textLength="131.0" lengthAdjust="spacingAndGlyphs">fiff_named_matrix.h</text>
<rect x="2104.3" y="459.4" width="70.8" height="25.3" fill="#e0e0e0" stroke="#999999" stroke-width="1.8"/>
<text x="2139.7" y="476.3" textLength="49.5" lengthAdjust="spacingAndGlyphs">QString</text>
<rect x="2504.2" y="459.4" width="61.3" height="25.3" fill="#e0e0e0" stroke="#999999" stroke-width="1.8"/>
<text x="2534.8" y="476.3" textLength="40.0" lengthAdjust="spacingAndGlyphs">QMap</text>
<rect x="2944.4" y="459.4" width="118.8" height="25.3" fill="#ffffff" stroke="#666666" stroke-width="1.8"/>
<text x="3003.8" y="476.3" textLength="97.5" lengthAdjust="spacingAndGlyphs">fiff_dig_point.h</text>
<rect x="863.0" y="532.4" width="124.4" height="25.3" fill="#e0e0e0" stroke="#999999" stroke-width="1.8"/>
<text x="925.2" y="549.3" textLength="103.1" lengthAdjust="spacingAndGlyphs">QSharedPointer</text>
<rect x="1334.2" y="532.4" width="109.3" height="25.3" fill="#e0e0e0" stroke="#999999" stroke-width="1.8"/>
<text x="1388.8" y="549.3" textLength="88.0" lengthAdjust="spacingAndGlyphs">QSharedData</text>
<rect x="1466.9" y="532.4" width="156.1" height="25.3" fill="#e0e0e0" stroke="#999999" stroke-width="1.8"/>
<text x="1545.0" y="549.3" textLength="134.8" lengthAdjust="spacingAndGlyphs">QSharedDataPointer</text>
<rect x="1952.7" y="532.4" width="94.8" height="25.3" fill="#ffffff" stroke="#666666" stroke-width="1.8"/>
<text x="2000.1" y="549.3" textLength="73.5" lengthAdjust="spacingAndGlyphs">fiff_types.h</text>
<rect x="2943.2" y="532.4" width="76.4" height="25.3" fill="#e0e0e0" stroke="#999999" stroke-width="1.8"/>
<text x="2981.4" y="549.3" textLength="55.1" lengthAdjust="spacingAndGlyphs">QDebug</text>
<rect x="389.8" y="606.9" width="92.2" height="25.3" fill="#e0e0e0" stroke="#999999" stroke-width="1.8"/>
<text x="435.9" y="623.8" textLength="70.9" lengthAdjust="spacingAndGlyphs">Eigen/Core</text>
<rect x="1755.0" y="606.9" width="121.9" height="25.3" fill="#ffffff" stroke="#666666" stroke-width="1.8"/>
<text x="1816.0" y="623.8" textLength="100.6" lengthAdjust="spacingAndGlyphs">fiff_constants.h</text>
<rect x="1952.7" y="606.9" width="78.4" height="25.3" fill="#e0e0e0" stroke="#999999" stroke-width="1.8"/>
<text x="1991.9" y="623.8" textLength="57.1" lengthAdjust="spacingAndGlyphs">QVariant</text>
<rect x="2055.7" y="606.9" width="56.2" height="25.3" fill="#e0e0e0" stroke="#999999" stroke-width="1.8"/>
<text x="2083.8" y="623.8" textLength="34.9" lengthAdjust="spacingAndGlyphs">QPair</text>
<rect x="2135.9" y="606.9" width="87.8" height="25.3" fill="#ffffff" stroke="#666666" stroke-width="1.8"/>
<text x="2179.8" y="623.8" textLength="66.5" lengthAdjust="spacingAndGlyphs">fiff_time.h</text>
<rect x="2248.4" y="606.9" width="110.6" height="25.3" fill="#ffffff" stroke="#666666" stroke-width="1.8"/>
<text x="2303.7" y="623.8" textLength="89.3" lengthAdjust="spacingAndGlyphs">fiff_data_ref.h</text>
<rect x="2419.6" y="606.9" width="94.1" height="25.3" fill="#e0e0e0" stroke="#999999" stroke-width="1.8"/>
<text x="2466.6" y="623.8" textLength="72.8" lengthAdjust="spacingAndGlyphs">QStringList</text>
<rect x="2726.5" y="606.9" width="56.2" height="25.3" fill="#e0e0e0" stroke="#999999" stroke-width="1.8"/>
<text x="2754.6" y="623.8" textLength="34.9" lengthAdjust="spacingAndGlyphs">QList</text>
<rect x="1667.2" y="679.9" width="99.2" height="25.3" fill="#ffffff" stroke="#666666" stroke-width="1.8"/>
<text x="1716.8" y="696.8" textLength="77.9" lengthAdjust="spacingAndGlyphs">fiff_global.h</text>
<rect x="2201.6" y="679.9" width="79.6" height="25.3" fill="#e0e0e0" stroke="#999999" stroke-width="1.8"/>
<text x="2241.4" y="696.8" textLength="58.3" lengthAdjust="spacingAndGlyphs">QtGlobal</text>
<rect x="1215.5" y="752.9" width="123.1" height="25.3" fill="#ffffff" stroke="#666666" stroke-width="1.8"/>
<text x="1277.0" y="769.8" textLength="101.8" lengthAdjust="spacingAndGlyphs">utils/buildinfo.h</text>
<rect x="2091.7" y="752.9" width="131.4" height="25.3" fill="#e0e0e0" stroke="#999999" stroke-width="1.8"/>
<text x="2157.4" y="769.8" textLength="110.1" lengthAdjust="spacingAndGlyphs">QtCore/qglobal.h</text>
<rect x="1243.2" y="826.4" width="67.6" height="25.3" fill="#e0e0e0" stroke="#999999" stroke-width="1.8"/>
<text x="1277.0" y="843.3" textLength="46.3" lengthAdjust="spacingAndGlyphs">cstring</text>
</g>
</svg>
</body></html>
